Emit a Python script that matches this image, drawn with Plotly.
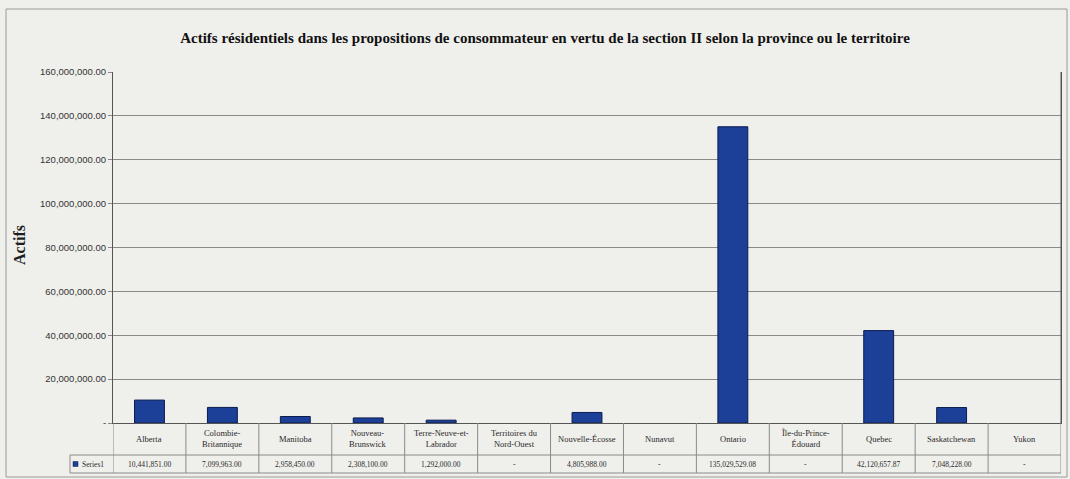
import plotly.graph_objects as go

# Provinces / territories (header row of the data table)
categories = [
    "Alberta", "Colombie-Britannique", "Manitoba", "Nouveau-Brunswick",
    "Terre-Neuve-et-Labrador", "Territoires du Nord-Ouest", "Nouvelle-Écosse",
    "Nunavut", "Ontario", "Île-du-Prince-Édouard", "Quebec", "Saskatchewan", "Yukon",
]
header_labels = [
    "Alberta", "Colombie-<br>Britannique", "Manitoba", "Nouveau-<br>Brunswick",
    "Terre-Neuve-et-<br>Labrador", "Territoires du<br>Nord-Ouest", "Nouvelle-Écosse",
    "Nunavut", "Ontario", "Île-du-Prince-<br>Édouard", "Quebec", "Saskatchewan", "Yukon",
]
# Residential assets (None = no value reported)
series1 = [
    10441851.00, 7099963.00, 2958450.00, 2308100.00, 1292000.00, None,
    4805988.00, None, 135029529.08, None, 42120657.87, 7048228.00, None,
]
series_name = "Series1"

y_tickvals = [0, 20e6, 40e6, 60e6, 80e6, 100e6, 120e6, 140e6, 160e6]
y_ticktext = ["-", "20,000,000.00", "40,000,000.00", "60,000,000.00", "80,000,000.00",
              "100,000,000.00", "120,000,000.00", "140,000,000.00", "160,000,000.00"]

W, H = 1070, 479
L, R, T, B = 113, 1061, 72, 423   # plot area in pixels
BG = "#EFEFEC"
GRID = "#8A8A8A"
BAR = "#1C3F98"


def py(p):
    """pixel row -> paper y"""
    return (B - p) / (B - T)


def px(p):
    """pixel column -> paper x"""
    return (p - L) / (R - L)


def fmt(v):
    return "-" if v is None else f"{v:,.2f}"


fig = go.Figure(
    go.Bar(
        x=categories,
        y=series1,
        name=series_name,
        width=0.41,
        marker=dict(color=BAR, line=dict(color="#0C1C4E", width=1)),
    )
)

shapes = []
# outer chart frame
shapes.append(dict(type="rect", xref="paper", yref="paper",
                   x0=px(6), x1=px(1067), y0=py(9), y1=py(477),
                   line=dict(color="#9A9A9A", width=1), layer="below"))
# data table: horizontal rules
for yy in (455, 473):
    shapes.append(dict(type="line", xref="paper", yref="paper",
                       x0=px(70), x1=1, y0=py(yy), y1=py(yy),
                       line=dict(color=GRID, width=1)))
# data table: vertical rules at category boundaries
for i in range(len(categories) + 1):
    shapes.append(dict(type="line", xref="x", yref="paper",
                       x0=i - 0.5, x1=i - 0.5, y0=0, y1=py(473),
                       line=dict(color=GRID, width=1)))
# left edge of the series-name cell
shapes.append(dict(type="line", xref="paper", yref="paper",
                   x0=px(70), x1=px(70), y0=py(455), y1=py(473),
                   line=dict(color=GRID, width=1)))
# legend key square
shapes.append(dict(type="rect", xref="paper", yref="paper",
                   x0=px(73), x1=px(78), y0=py(466.5), y1=py(461.5),
                   fillcolor=BAR, line=dict(color="#0C1C4E", width=0.5)))

annotations = []
tbl_font = dict(family="Liberation Serif, Times New Roman, serif", size=8.5, color="#2A2A2A")
for cat, lab, val in zip(categories, header_labels, series1):
    annotations.append(dict(x=cat, xref="x", y=py(439), yref="paper",
                            text=lab, showarrow=False, font=tbl_font,
                            xanchor="center", yanchor="middle"))
    annotations.append(dict(x=cat, xref="x", y=py(464.5), yref="paper",
                            text=fmt(val), showarrow=False,
                            font=dict(tbl_font, size=7.5),
                            xanchor="center", yanchor="middle"))
annotations.append(dict(x=px(80), xref="paper", y=py(464.5), yref="paper",
                        text=series_name, showarrow=False, font=dict(tbl_font, size=7.5),
                        xanchor="left", yanchor="middle"))
# y-axis title
annotations.append(dict(x=px(20), xref="paper", y=py(245), yref="paper",
                        text="<b>Actifs</b>", textangle=-90, showarrow=False,
                        font=dict(family="Liberation Serif, Times New Roman, serif", size=16, color="#1E1E1E"),
                        xanchor="center", yanchor="middle"))

fig.update_layout(
    width=W, height=H,
    margin=dict(l=L, r=W - R, t=T, b=H - B, pad=0),
    paper_bgcolor=BG, plot_bgcolor=BG,
    showlegend=False,
    bargap=0.59,
    title=dict(
        text="<b>Actifs résidentiels dans les propositions de consommateur en vertu de la section II selon la province ou le territoire</b>",
        xref="container", x=545 / W, xanchor="center",
        yref="container", y=1 - 38 / H, yanchor="middle",
        font=dict(family="Liberation Serif, Times New Roman, serif", size=15, color="#111111"),
    ),
    xaxis=dict(
        type="category", categoryorder="array", categoryarray=categories,
        range=[-0.5, len(categories) - 0.5],
        showticklabels=False, showgrid=False, ticks="",
        showline=True, linecolor="#555555", linewidth=1, mirror=False, zeroline=False,
    ),
    yaxis=dict(
        range=[0, 160e6], tickvals=y_tickvals, ticktext=y_ticktext,
        showgrid=True, gridcolor=GRID, gridwidth=1,
        ticks="outside", ticklen=4, tickcolor=GRID,
        showline=True, linecolor="#555555", linewidth=1, mirror=True,
        zeroline=False,
        tickfont=dict(family="Liberation Sans, Arial, sans-serif", size=9.5, color="#333333"),
    ),
    shapes=shapes,
    annotations=annotations,
)
# right border of the plot area
fig.add_shape(type="line", xref="paper", yref="paper", x0=1, x1=1, y0=0, y1=1,
              line=dict(color="#555555", width=1))

fig.write_html("out.html")
